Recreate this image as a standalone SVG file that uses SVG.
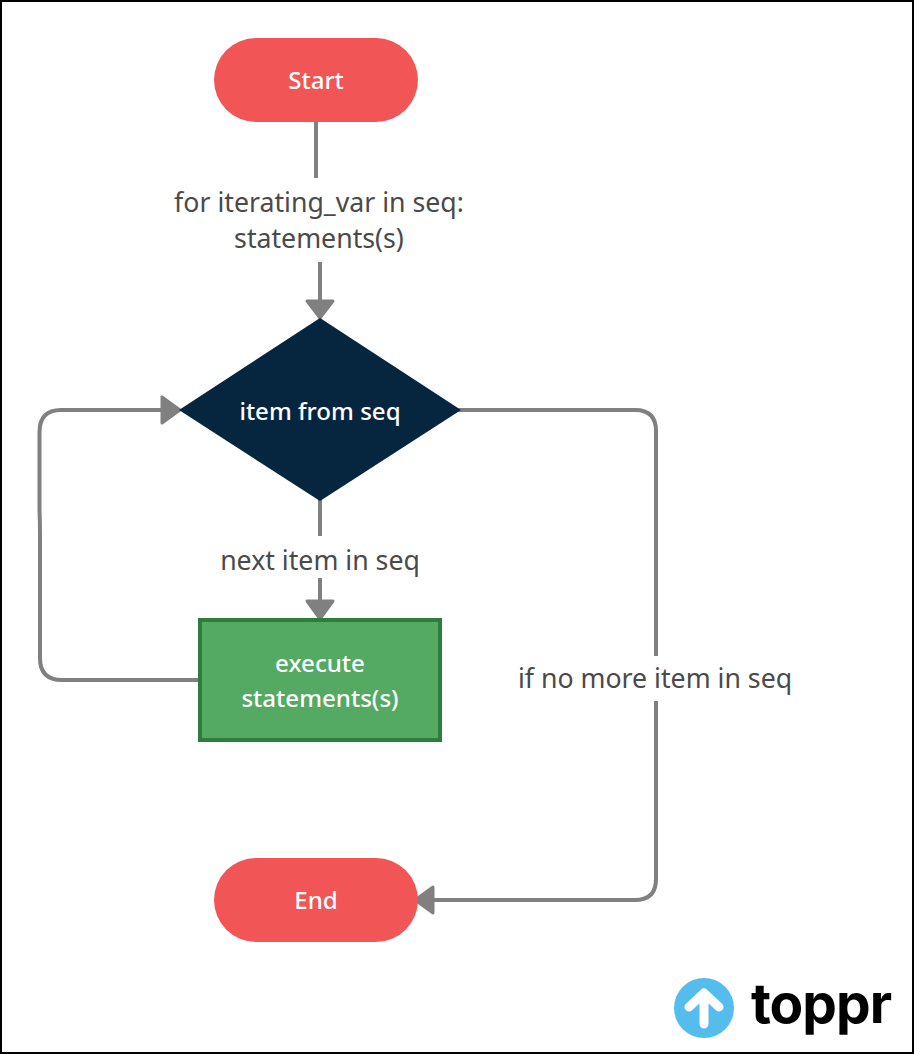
<svg xmlns="http://www.w3.org/2000/svg" width="914" height="1054" viewBox="0 0 914 1054">
<style>
text{font-family:"Noto Sans","Open Sans",sans-serif;font-size:26.7px;text-anchor:middle}
.w{fill:#fff;font-size:24.1px;font-weight:500}
.d{fill:#4a4a4a}
.c{fill:none;stroke:#808080;stroke-width:4}
.h{fill:#808080;stroke:#808080;stroke-width:3;stroke-linejoin:round}
</style>
<rect width="914" height="1054" fill="#000"/>
<rect x="2" y="2" width="910" height="1050" fill="#fff"/>
<g id="connectors">
<path class="c" d="M316 118V178"/>
<path class="c" d="M320 262V300"/>
<path class="h" d="M307 301H333L320 318Z"/>
<path class="c" d="M320 498V536"/>
<path class="c" d="M320 578V602"/>
<path class="h" d="M307 601H333L320 619Z"/>
<path class="c" d="M201 680H62Q40 680 40 658V535Q40 522 39.500 510V432Q39.500 410 61 410H164"/>
<path class="h" d="M162 397V423L180 410Z"/>
<path class="c" d="M458 410H635Q656 410 656 431V656"/>
<path class="c" d="M656 701V879Q656 900 635 900H432"/>
<path class="h" d="M433 887V913L415 900Z"/>
</g>
<g id="start"><rect x="214" y="38" width="204" height="84" rx="42" fill="#f25555"/><text class="w" x="316" y="89">Start</text></g>
<g id="loop-label"><text class="d" x="319" y="212">for iterating_var in seq:</text><text class="d" x="319" y="248">statements(s)</text></g>
<g id="decision"><path d="M320 318L461 410L320 501L179 410Z" fill="#06263f"/><text class="w" x="320" y="420">item from seq</text></g>
<g id="next-label"><text class="d" x="320" y="570">next item in seq</text></g>
<g id="execute"><rect x="200" y="620" width="240" height="120" fill="#55aa63" stroke="#2e7d3c" stroke-width="4"/><text class="w" x="320" y="672">execute</text><text class="w" x="320" y="707">statements(s)</text></g>
<g id="exit-label"><text class="d" x="655" y="688">if no more item in seq</text></g>
<g id="end"><rect x="214" y="858" width="204" height="84" rx="42" fill="#f25555"/><text class="w" x="316" y="909">End</text></g>
<g id="logo">
<circle cx="704" cy="1008" r="30" fill="#55bcee"/>
<path d="M704 1024V994M689 1007L704 993L719 1007" fill="none" stroke="#fff" stroke-width="9" stroke-linecap="round" stroke-linejoin="round"/>
<text x="821" y="1023" style="font-family:Inter,sans-serif;font-size:55px;font-weight:700;letter-spacing:-1px" fill="#000">toppr</text>
</g>
</svg>
